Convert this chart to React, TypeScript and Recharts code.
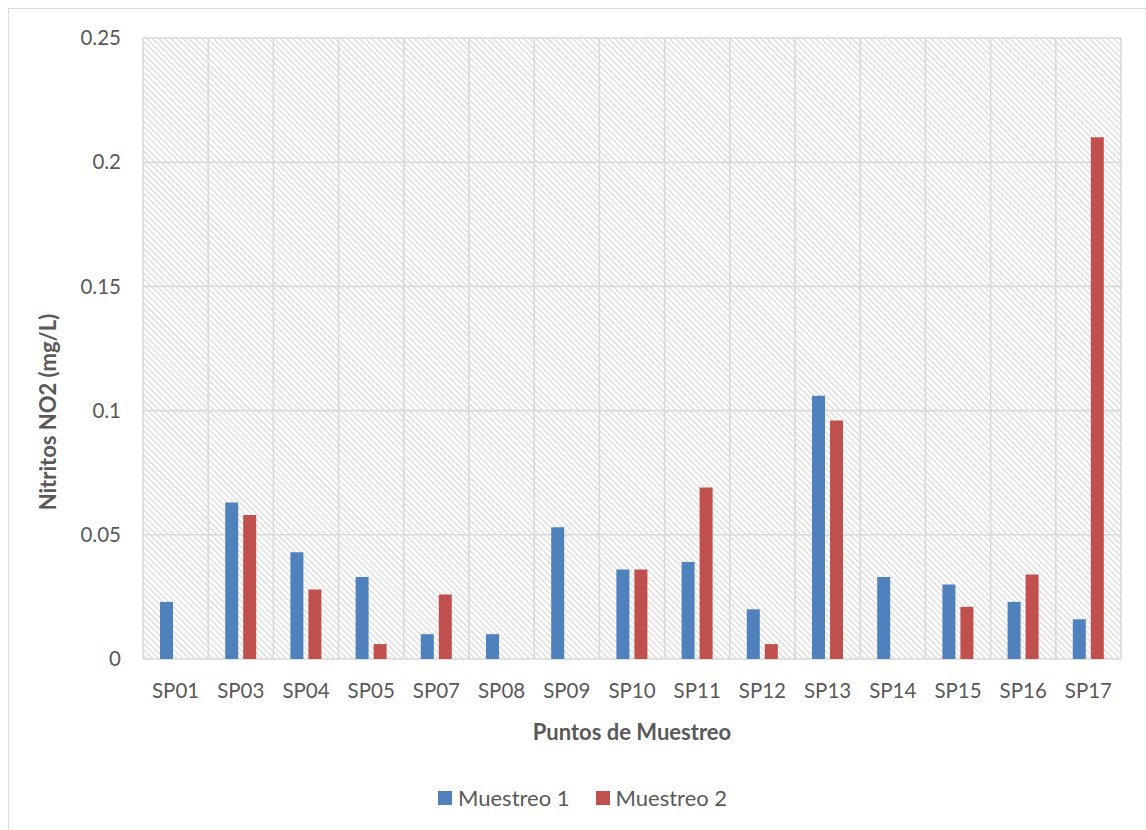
import React from 'react';
import { BarChart, Bar, XAxis, YAxis, CartesianGrid } from 'recharts';

const puntos = ['SP01', 'SP03', 'SP04', 'SP05', 'SP07', 'SP08', 'SP09', 'SP10', 'SP11', 'SP12', 'SP13', 'SP14', 'SP15', 'SP16', 'SP17'];
const muestreo1 = [0.023, 0.063, 0.043, 0.033, 0.01, 0.01, 0.053, 0.036, 0.039, 0.02, 0.106, 0.033, 0.03, 0.023, 0.016];
const muestreo2 = [null, 0.058, 0.028, 0.006, 0.026, null, null, 0.036, 0.069, 0.006, 0.096, null, 0.021, 0.034, 0.21];
const yTicks = [0, 0.05, 0.1, 0.15, 0.2, 0.25];

const series = [
  { key: 'm1', name: 'Muestreo 1', color: '#4f81bd' },
  { key: 'm2', name: 'Muestreo 2', color: '#c0504d' },
];

const data = puntos.map((p, i) => ({ punto: p, m1: muestreo1[i], m2: muestreo2[i] }));

const FONT = 'Lato, "Open Sans", sans-serif';
const TEXT = '#595959';
const GRID = '#d9d9d9';

const W = 1146;
const H = 830;

export default function App() {
  return (
    <div style={{ position: 'relative', width: W, height: H, background: '#fff', fontFamily: FONT }}>
      <style>{'body{margin:0}'}</style>
      {/* hatch used as plot area fill */}
      <svg width={0} height={0} style={{ position: 'absolute' }}>
        <defs>
          <pattern id="hatch" width={4.3} height={4.3} patternUnits="userSpaceOnUse" patternTransform="rotate(45)">
            <line x1={0} y1={1} x2={4.3} y2={1} stroke="#d6d6d6" strokeWidth={1.2} />
          </pattern>
        </defs>
      </svg>
      {/* chart frame */}
      <div style={{ position: 'absolute', left: 8, top: 8, width: W, height: H, borderLeft: `1px solid ${GRID}`, borderTop: `1px solid ${GRID}` }} />
      <div style={{ position: 'absolute', left: 0, top: 0 }}>
        <BarChart
          width={W}
          height={H}
          data={data}
          margin={{ top: 38, right: 25, bottom: 0, left: 0 }}
          barSize={13}
          barGap={5}
        >
          <CartesianGrid
            stroke={GRID}
            strokeWidth={1.6}
            fill="url(#hatch)"
            fillOpacity={1}
            verticalCoordinatesGenerator={({ offset }: any) =>
              puntos.map((_, i) => offset.left + (offset.width * i) / puntos.length).concat(offset.left + offset.width)
            }
          />
          <XAxis
            dataKey="punto"
            height={171}
            axisLine={false}
            tickLine={false}
            tickSize={0}
            tickMargin={24}
            tick={{ fill: TEXT, fontSize: 20.5, fontFamily: FONT }}
            interval={0}
            label={{
              content: ({ viewBox }: any) => (
                <text
                  x={viewBox.x + viewBox.width / 2}
                  y={viewBox.y + 81}
                  textAnchor="middle"
                  fill={TEXT}
                  fontSize={22}
                  fontWeight="bold"
                  fontFamily={FONT}
                >
                  Puntos de Muestreo
                </text>
              ),
            }}
          />
          <YAxis
            width={143}
            domain={[0, 0.25]}
            ticks={yTicks}
            axisLine={false}
            tickLine={false}
            tickSize={0}
            tickMargin={22}
            tick={{ fill: TEXT, fontSize: 20.5, fontFamily: FONT }}
            label={{
              content: () => (
                <text
                  x={0}
                  y={0}
                  transform="translate(56 412) rotate(-90)"
                  textAnchor="middle"
                  fill={TEXT}
                  fontSize={22}
                  fontWeight="bold"
                  fontFamily={FONT}
                >
                  Nitritos NO2 (mg/L)
                </text>
              ),
            }}
          />
          {series.map((s) => (
            <Bar key={s.key} dataKey={s.key} name={s.name} fill={s.color} isAnimationActive={false} />
          ))}
        </BarChart>
      </div>
      {/* legend */}
      <div
        style={{
          position: 'absolute',
          top: 785,
          left: 438,
          display: 'flex',
          alignItems: 'center',
          gap: 26,
          fontSize: 22,
          color: TEXT,
          lineHeight: '26px',
        }}
      >
        {series.map((s) => (
          <div key={s.key} style={{ display: 'flex', alignItems: 'center', gap: 6 }}>
            <span style={{ display: 'inline-block', width: 14, height: 14, background: s.color }} />
            <span>{s.name}</span>
          </div>
        ))}
      </div>
    </div>
  );
}
